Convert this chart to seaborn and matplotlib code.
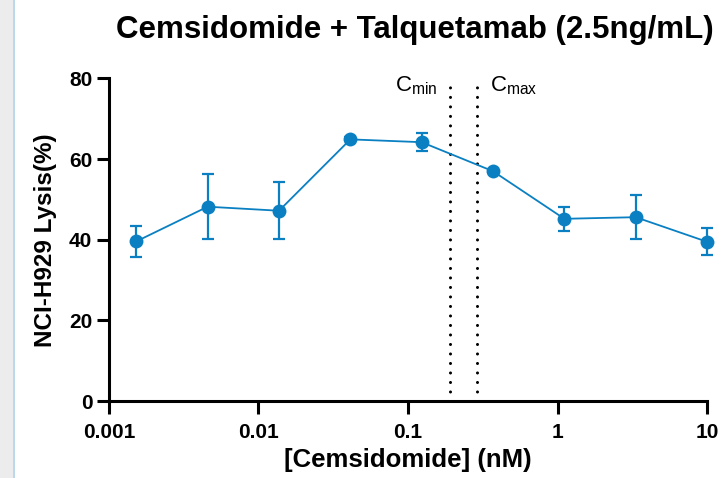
import matplotlib
matplotlib.use("Agg")
import matplotlib.pyplot as plt
from matplotlib.patches import Rectangle
import seaborn as sns
import pandas as pd

# Cemsidomide concentrations (nM), 3-fold dilution series
conc_nM = [0.001524, 0.004572, 0.01372, 0.04115, 0.1235, 0.3704, 1.111, 3.333, 10.0]
lysis_mean = [39.6, 48.2, 47.2, 64.9, 64.2, 57.0, 45.2, 45.6, 39.5]
lysis_sd = [3.8, 8.1, 7.1, 0.5, 2.2, 0.5, 3.0, 5.4, 3.3]

# Clinical exposure reference concentrations (nM)
c_min = 0.19
c_max = 0.29

x_ticks = [0.001, 0.01, 0.1, 1, 10]
x_ticklabels = ["0.001", "0.01", "0.1", "1", "10"]
y_ticks = [0, 20, 40, 60, 80]

color = "#0a80c2"

sns.set_theme(style="ticks")
plt.rcParams["font.family"] = ["Liberation Sans", "DejaVu Sans"]
plt.rcParams["mathtext.fontset"] = "custom"
plt.rcParams["mathtext.rm"] = "Liberation Sans"
plt.rcParams["mathtext.it"] = "Liberation Sans:italic"
for key in ("text.color", "axes.labelcolor", "xtick.color", "ytick.color", "axes.edgecolor"):
    plt.rcParams[key] = "black"

df = pd.DataFrame({"conc": conc_nM, "lysis": lysis_mean, "sd": lysis_sd})

fig = plt.figure(figsize=(7.25, 4.78), dpi=100)
fig.patch.set_facecolor("white")
ax = fig.add_axes([0.1503, 0.161, 0.8249, 0.6748])

# window edge strip on the left
fig.patches.append(Rectangle((0, 0), 13 / 725, 1, transform=fig.transFigure,
                             facecolor="#ececec", edgecolor="none", zorder=0))
fig.patches.append(Rectangle((13 / 725, 0), 1.5 / 725, 1, transform=fig.transFigure,
                             facecolor="#bcd8ec", edgecolor="none", zorder=0))

eb = ax.errorbar(df["conc"], df["lysis"], yerr=df["sd"], fmt="none", ecolor=color,
                 elinewidth=1.6, capsize=4.5, capthick=1.6, zorder=3)
for artist in eb.lines[1] + eb.lines[2]:
    artist.set_clip_on(False)
sns.lineplot(data=df, x="conc", y="lysis", ax=ax, color=color, linewidth=1.3,
             marker="o", markersize=10, markeredgewidth=0, zorder=4, clip_on=False)

for c in (c_min, c_max):
    ax.plot([c, c], [0, 80], color="black", linewidth=2.2,
            linestyle=(0, (0.01, 3.1)), dash_capstyle="round", zorder=2,
            clip_on=False)

ax.annotate(r"C$_{\mathrm{min}}$", xy=(c_min, 76.7), xytext=(-9, 0),
            textcoords="offset points", ha="right", va="baseline", fontsize=16)
ax.annotate(r"C$_{\mathrm{max}}$", xy=(c_max, 76.7), xytext=(9, 0),
            textcoords="offset points", ha="left", va="baseline", fontsize=16)

ax.set_xscale("log")
ax.set_xlim(0.001, 10)
ax.set_ylim(0, 80)
ax.set_xticks(x_ticks)
ax.set_xticklabels(x_ticklabels)
ax.minorticks_off()
ax.set_yticks(y_ticks)

for lab in ax.get_xticklabels() + ax.get_yticklabels():
    lab.set_fontweight("bold")
    lab.set_fontsize(15)

ax.tick_params(axis="both", length=9, width=2.2, color="black")
ax.tick_params(axis="x", pad=7)
ax.tick_params(axis="y", pad=3)
for side in ("top", "right"):
    ax.spines[side].set_visible(False)
for side in ("left", "bottom"):
    ax.spines[side].set_linewidth(2.2)
    ax.spines[side].set_color("black")

ax.set_xlabel("[Cemsidomide] (nM)", fontsize=18.5, fontweight="bold", labelpad=4)
ax.set_ylabel("NCI-H929 Lysis(%)", fontsize=17.5, fontweight="bold", labelpad=9)
fig.text(0.5717, 0.937, "Cemsidomide + Talquetamab (2.5ng/mL)", ha="center",
         va="center", fontsize=22.5, fontweight="bold")

fig.savefig("out.png", dpi=100)
